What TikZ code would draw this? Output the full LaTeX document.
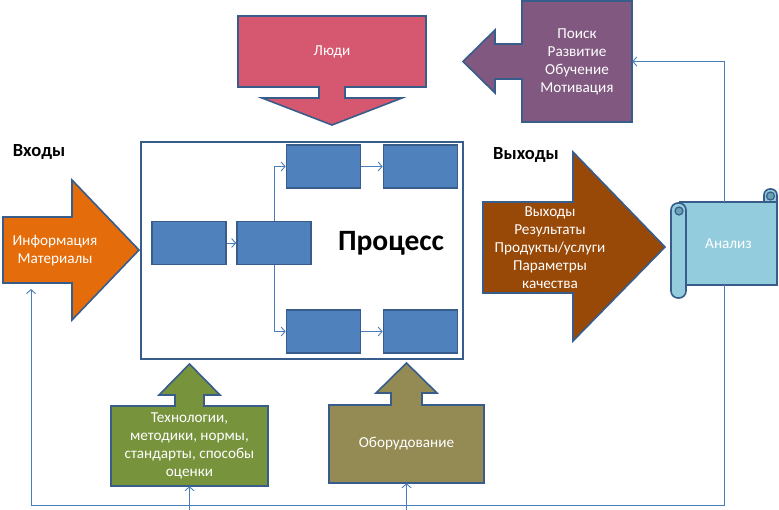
\documentclass[tikz,border=0pt]{standalone}
\usepackage{fontspec}
\setmainfont{Carlito}
\usetikzlibrary{calc,arrows.meta}
\definecolor{edge}{RGB}{56,93,138}
\definecolor{wireblue}{RGB}{74,126,187}
\definecolor{boxblue}{RGB}{79,129,189}
\definecolor{pplpink}{RGB}{214,88,112}
\definecolor{srchpurple}{RGB}{128,88,128}
\definecolor{inorange}{RGB}{228,108,10}
\definecolor{outbrown}{RGB}{152,72,7}
\definecolor{techgreen}{RGB}{119,147,60}
\definecolor{equipolive}{RGB}{148,138,84}
\definecolor{scroll}{RGB}{147,205,221}
\definecolor{scrolldk}{RGB}{105,160,180}
\tikzstyle{shp}=[draw=edge, line width=1.6pt]
\tikzstyle{blk}=[draw=edge, fill=boxblue, line width=1.6pt, minimum width=74pt, minimum height=43pt]
\tikzstyle{frame}=[draw=edge, fill=white, line width=1.6pt]
\tikzstyle{lbl}=[text=white, align=center, font=\fontsize{15.2}{18}\selectfont]
\tikzstyle{hdr}=[font=\fontsize{18.5}{20}\selectfont\bfseries]
\tikzstyle{wire}=[draw=wireblue, line width=0.9pt]
\tikzstyle{link}=[wire, -{Straight Barb[length=4pt,width=9pt]}]

\begin{document}
\begin{tikzpicture}[x=1pt,y=-1pt]
\useasboundingbox (0,0) rectangle (779,509);
\fill[white] (0,0) rectangle (779,509);
% process frame with its steps
\node[frame, minimum width=322pt, minimum height=217pt] (frame) at (302,250.5) {};
\node[font=\fontsize{29.5}{32}\selectfont\bfseries] (proc) at (391,243) {Процесс};
\foreach \n/\x/\y in {1/189/243, 2/274/243, 3/323.5/166.5, 4/420.5/166.5, 5/323.5/331.5, 6/420.5/331.5} {
	\node[blk] (b\n) at (\x,\y) {};
}
\draw[link] (b1) -- (b2);
\draw[link] (b2.north) |- (b3);
\draw[link] (b2.south) |- (b5);
\draw[link] (b3) -- (b4);
\draw[link] (b5) -- (b6);
% block arrows
\filldraw[shp, fill=pplpink] (238,16) -- (426,16) -- (426,87) -- (345,87) -- (345,98) -- (402,98) -- (332,125) -- (262,98) -- (319,98) -- (319,87) -- (238,87) -- cycle;
\filldraw[shp, fill=srchpurple] (632,1) -- (632,122) -- (522,122) -- (522,79) -- (495,79) -- (495,93) -- (463,61.5) -- (495,30) -- (495,44) -- (522,44) -- (522,1) -- cycle;
\filldraw[shp, fill=inorange] (3,217) -- (72,217) -- (72,180) -- (139,250) -- (72,320) -- (72,283) -- (3,283) -- cycle;
\filldraw[shp, fill=outbrown] (483,202) -- (573,202) -- (573,152) -- (665,247) -- (573,341) -- (573,293) -- (483,293) -- cycle;
\filldraw[shp, fill=techgreen] (111,406) -- (175,406) -- (175,395) -- (159,395) -- (189.5,364) -- (220,395) -- (204,395) -- (204,406) -- (268,406) -- (268,486) -- (111,486) -- cycle;
\filldraw[shp, fill=equipolive] (329,405) -- (391,405) -- (391,393) -- (376,393) -- (406.5,363) -- (437,393) -- (422,393) -- (422,405) -- (484,405) -- (484,483) -- (329,483) -- cycle;
% scroll
\filldraw[shp, fill=scroll, rounded corners=6pt] (764,189) rectangle (777,214);
\filldraw[shp, fill=scroll] (680,202) rectangle (777,285);
\filldraw[shp, fill=scroll, rounded corners=7pt] (671,203) rectangle (686,298);
\filldraw[shp, fill=scrolldk, line width=1.2pt] (770.5,196) circle (4);
\filldraw[shp, fill=scrolldk, line width=1.2pt] (679,211) circle (4);
% texts
\node[lbl] (ljudi) at (332,51.5) {Люди};
\node[lbl, minimum width=110pt, minimum height=121pt] (poisk) at (577,61.5) {Поиск\\Развитие\\Обучение\\Мотивация};
\node[lbl] (info) at (55,251) {Информация\\Материалы};
\node[lbl] (vyh) at (550,248) {Выходы\\Результаты\\Продукты/услуги\\Параметры\\качества};
\node[lbl, minimum width=157pt, minimum height=80pt] (tech) at (189.5,446) {Технологии,\\методики, нормы,\\стандарты, способы\\оценки};
\node[lbl, minimum width=155pt, minimum height=78pt] (equip) at (406.5,444) {Оборудование};
\node[lbl, minimum width=97pt, minimum height=83pt] (analiz) at (728.5,243.5) {Анализ};
\node[hdr] (inlbl) at (39,152) {Входы};
\node[hdr] (outlbl) at (526,155) {Выходы};
% feedback
\coordinate (busR) at (724,505);
\coordinate (busL) at (31,505);
\coordinate (infoFoot) at (31,289);
\draw[link] (analiz.north -| busR) |- (poisk);
\draw[wire] (analiz.south -| busR) -- (busR) -- (busL);
\draw[link] (busL) -- (infoFoot);
\draw[link] ($(tech.south |- busL)+(0,5)$) -- (tech.south);
\draw[link] ($(equip.south |- busL)+(0,5)$) -- (equip.south);
\end{tikzpicture}
\end{document}
